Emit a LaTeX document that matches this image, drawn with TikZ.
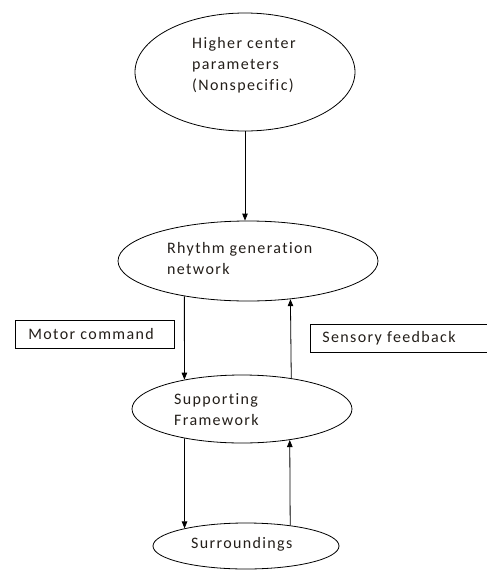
\documentclass[tikz,border=0pt]{standalone}
\usepackage{fontspec}
\setmainfont{Carlito}[LetterSpace=8.5,Ligatures=CommonOff]
\usetikzlibrary{arrows.meta,shapes.geometric}
\definecolor{text_gray}{RGB}{35,30,25}

\begin{document}
\begin{tikzpicture}[x=1pt,y=-1pt,>={Triangle[length=7pt,width=5.5pt]},font=\fontsize{16}{21}\selectfont]
    \tikzstyle{blob}=[draw=black, ellipse, inner sep=0pt, line width=0.8pt]
    \tikzstyle{tag}=[draw=black, rectangle, line width=0.8pt, align=left, minimum height=28pt, anchor=west, text=text_gray]
    \tikzstyle{txt}=[inner sep=0pt, anchor=base west, align=left, text=text_gray]
    \tikzstyle{link}=[->, line width=0.8pt]
    \useasboundingbox (0,0) rectangle (487,571);

    \node[blob, minimum width=220pt, minimum height=118pt] (higher)  at (245,72)  {};
    \node[blob, minimum width=260pt, minimum height=80pt]  (rhythm)  at (248,261) {};
    \node[blob, minimum width=220pt, minimum height=68pt]  (support) at (242,409) {};
    \node[blob, minimum width=186pt, minimum height=46pt]  (surr)    at (246,546) {};

    % base anchor sits on the last line
    \node[txt] (higher_txt)  at (192,90)  {Higher center\\parameters\\(Nonspecific)};
    \node[txt] (rhythm_txt)  at (167,274) {Rhythm generation\\network};
    \node[txt] (support_txt) at (174,425) {Supporting\\Framework};
    \node[txt] (surr_txt)    at (191,548) {Surroundings};

    \node[tag, inner xsep=13pt, text width=133pt] (motor)   at (15,334)    {Motor command};
    \node[tag, inner xsep=12pt, text width=155pt] (sensory) at (310,338.5) {Sensory feedback};

    \draw[link] (higher.south) -- (higher.south |- rhythm.north);
    \draw[link] (rhythm.209) -- (support.153);
    \draw[link] (support.32.5) -- (rhythm.318);
    \draw[link] (support.207) -- (surr.164);
    \draw[link] (surr.25) -- (support.327);
\end{tikzpicture}
\end{document}
